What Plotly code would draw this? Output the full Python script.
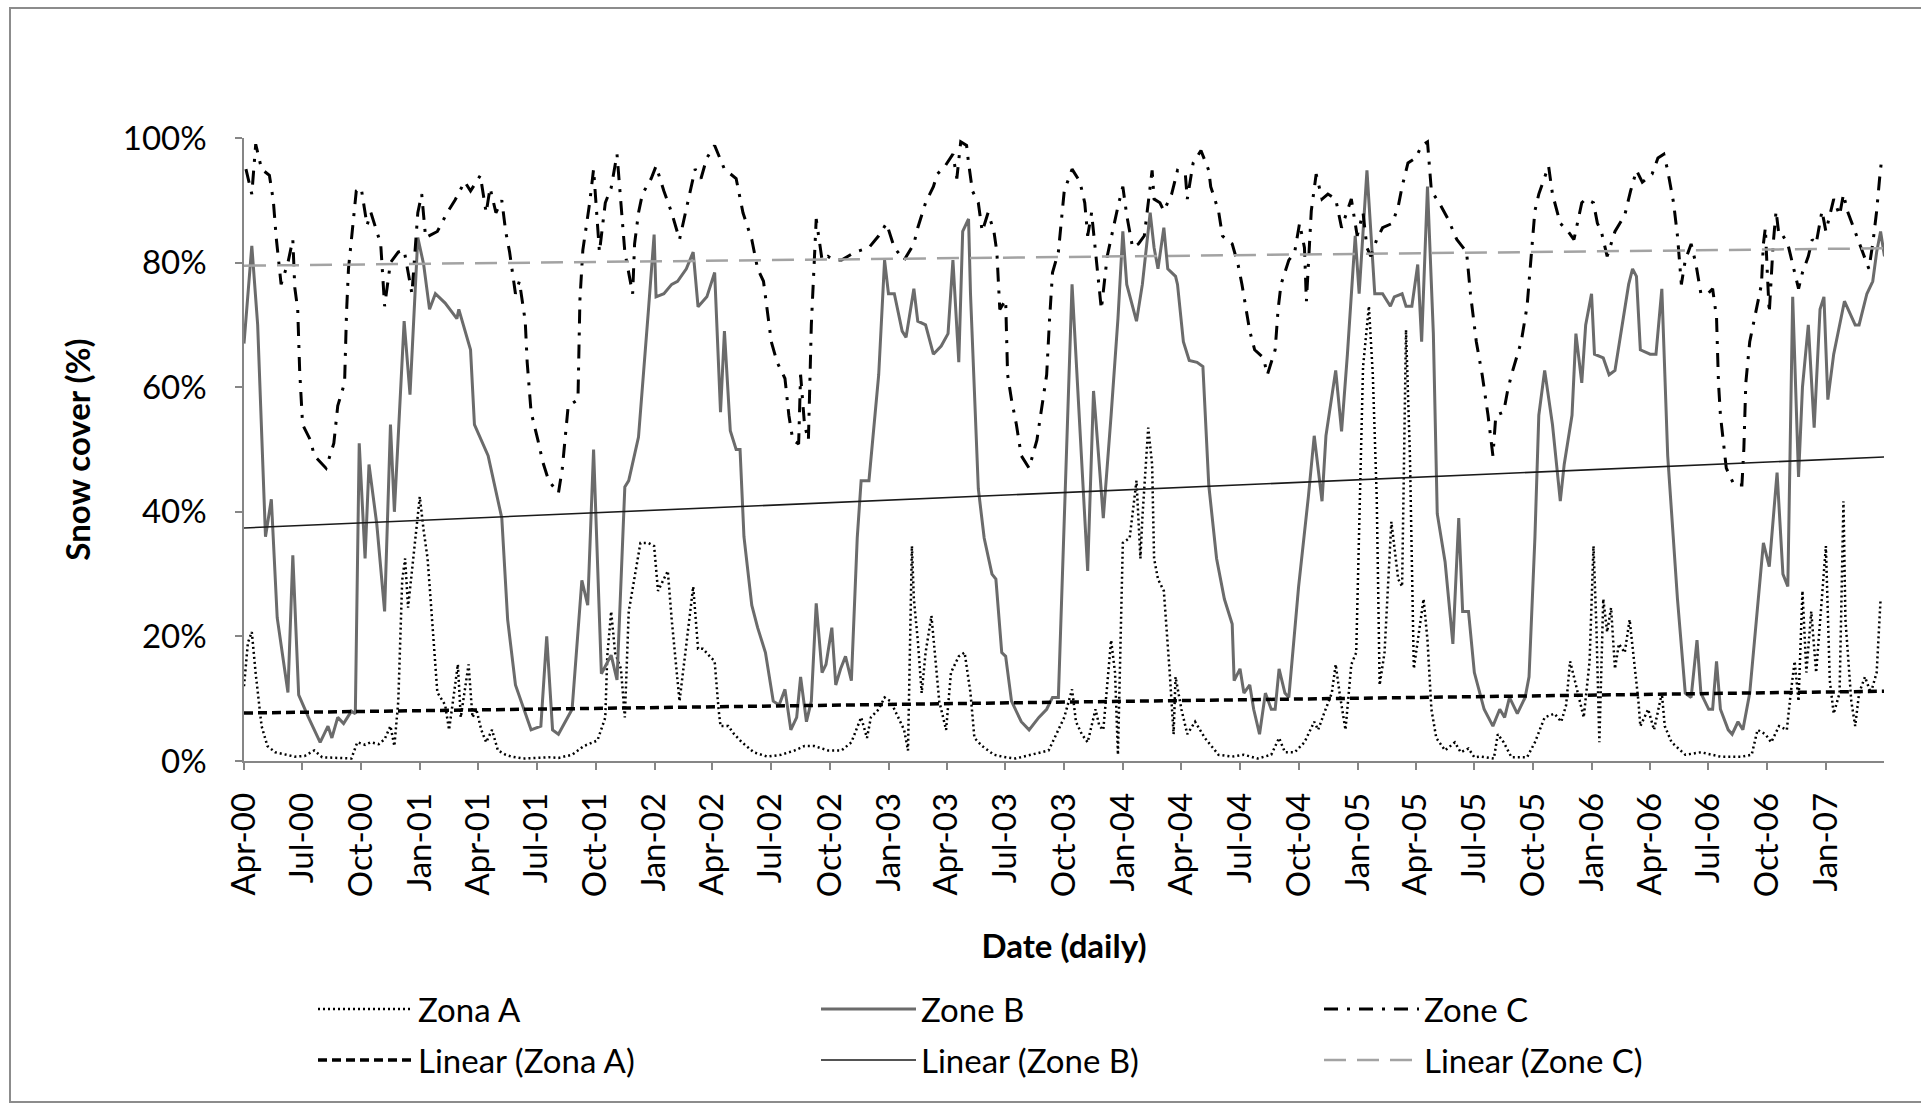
import numpy as np
import pandas as pd
import plotly.graph_objects as go

# Snow cover readings: (months since 1 Apr 2000, snow cover %)
zona_a = [
    (0.0, 12), (0.2, 19), (0.4, 20.7), (0.6, 14), (0.9, 5.6), (1.2, 2.4), (1.6, 1.4), (2.1, 1.0),
    (2.6, 0.7), (3.1, 0.8), (3.6, 1.7), (4.0, 0.6), (4.6, 0.5), (5.1, 0.4), (5.5, 0.4), (5.8, 3),
    (6.2, 2.6), (6.5, 3), (6.9, 2.7), (7.2, 3.5), (7.5, 5.6), (7.7, 2.4), (7.9, 9.6), (8.1, 29),
    (8.25, 32.5), (8.4, 24.6), (8.65, 32), (9.0, 42.4), (9.2, 37), (9.4, 32.5), (9.6, 24), (9.9, 11),
    (10.3, 9), (10.5, 5), (10.7, 9.6), (10.95, 15.5), (11.1, 7), (11.3, 11), (11.5, 15.5), (11.7, 7),
    (11.9, 8.3), (12.15, 5), (12.4, 3), (12.7, 5), (13.0, 1.7), (13.4, 1.0), (13.7, 0.7), (14.3, 0.4),
    (15.0, 0.5), (15.6, 0.6), (16.1, 0.5), (16.8, 1.0), (17.4, 2.4), (18.1, 3.3), (18.5, 7), (18.6, 16.8),
    (18.8, 24), (19.0, 17.4), (19.3, 14.8), (19.5, 7), (19.7, 24), (20.0, 29.2), (20.3, 35), (20.7, 35),
    (21.0, 34.5), (21.2, 27.3), (21.5, 29.2), (21.7, 30.5), (21.9, 22.7), (22.1, 16), (22.3, 9.6), (22.6, 17.4),
    (23.0, 28), (23.25, 18), (23.5, 18), (23.85, 16.8), (24.1, 16), (24.3, 8.3), (24.4, 5.6), (24.8, 5.6),
    (25.1, 4.3), (25.5, 3), (26.1, 1.4), (26.8, 0.7), (27.5, 1.0), (28.2, 1.7), (28.7, 2.4), (29.2, 2.4),
    (29.9, 1.7), (30.6, 1.7), (31.1, 3), (31.6, 7), (31.9, 3.7), (32.1, 7), (32.5, 8.3), (32.8, 10.2),
    (33.1, 9.6), (33.5, 7), (33.8, 5), (34.0, 1.7), (34.2, 34.5), (34.3, 26), (34.5, 19.4), (34.7, 10.9),
    (34.9, 17.4), (35.2, 23.3), (35.4, 16), (35.6, 9.6), (35.95, 5), (36.2, 14.2), (36.6, 16.8), (36.9, 17.4),
    (37.2, 10.9), (37.4, 3.7), (37.8, 2.4), (38.4, 1.0), (39.0, 0.6), (39.5, 0.4), (40.3, 1.0), (41.2, 1.7),
    (41.7, 5), (42.0, 7), (42.4, 11.5), (42.6, 6.3), (42.9, 4.3), (43.2, 3), (43.6, 8.3), (43.8, 5.6),
    (44.0, 5), (44.2, 12.9), (44.4, 19.4), (44.6, 14.2), (44.75, 1), (45.0, 35), (45.35, 35.8), (45.7, 45),
    (45.9, 32.5), (46.0, 39), (46.3, 53.5), (46.5, 47.6), (46.6, 32.5), (46.8, 29.2), (47.1, 27.3), (47.4, 14.2),
    (47.6, 4.3), (47.7, 13.5), (48.0, 8.3), (48.3, 4.3), (48.7, 6.3), (49.2, 3.7), (49.9, 1.0), (50.6, 0.7),
    (51.2, 1.0), (51.9, 0.4), (52.6, 1.0), (53.0, 3.7), (53.3, 1.4), (53.8, 1.4), (54.3, 3), (54.8, 6.3),
    (55.0, 5), (55.3, 7.6), (55.7, 10.9), (55.9, 15.5), (56.1, 10.9), (56.4, 5), (56.7, 15.5), (56.95, 17.4),
    (57.1, 39), (57.3, 63.3), (57.6, 73), (57.8, 62), (58.0, 42.4), (58.15, 12.2), (58.4, 17.4), (58.75, 38.4),
    (59.1, 29.2), (59.3, 28), (59.5, 69.2), (59.7, 49), (59.9, 14.8), (60.1, 19.4), (60.4, 26), (60.6, 19.4),
    (60.8, 8.3), (61.05, 3.7), (61.5, 1.7), (62.0, 3), (62.3, 1.4), (62.7, 2), (63.0, 0.6), (63.35, 0.7),
    (64.0, 0.4), (64.2, 4.3), (64.5, 3), (64.9, 0.6), (65.7, 0.6), (66.1, 3), (66.6, 7), (67.1, 7.6),
    (67.45, 6.3), (67.7, 9), (67.9, 16), (68.1, 13.5), (68.4, 9.6), (68.6, 7), (68.9, 16), (69.1, 34.5),
    (69.25, 21.4), (69.4, 3), (69.6, 26), (69.8, 20.7), (70.0, 24.6), (70.2, 14.8), (70.4, 18.8), (70.7, 17.4),
    (70.95, 22.7), (71.2, 16), (71.4, 9.6), (71.5, 5.6), (71.9, 8.3), (72.2, 5), (72.6, 10.9), (72.75, 5.6),
    (73.1, 3), (73.8, 1.0), (74.6, 1.4), (75.6, 0.7), (76.7, 0.7), (77.2, 1.0), (77.5, 5), (77.9, 4.3),
    (78.2, 3), (78.6, 5.6), (79.0, 5), (79.2, 10.9), (79.4, 16), (79.6, 9.6), (79.8, 27.3), (80.0, 14.2),
    (80.25, 24), (80.5, 14.2), (80.75, 24), (81.0, 34.5), (81.2, 12.9), (81.4, 7.6), (81.7, 10.9), (81.9, 41.7),
    (82.0, 22.7), (82.3, 9.6), (82.5, 5.6), (82.7, 10.9), (83.0, 13.5), (83.3, 10.9), (83.6, 14.2), (83.8, 26),
]

zone_b = [
    (0.0, 67), (0.4, 82.7), (0.7, 70), (1.1, 36), (1.4, 42), (1.7, 23), (2.25, 11), (2.5, 33),
    (2.8, 10.6), (3.3, 7), (3.9, 3), (4.3, 5.6), (4.5, 3.7), (4.8, 7), (5.1, 6), (5.5, 8),
    (5.7, 7.6), (5.9, 51), (6.2, 32.5), (6.4, 47.6), (6.8, 38), (7.2, 24), (7.5, 54), (7.7, 40),
    (8.2, 70.6), (8.5, 58.8), (8.9, 84), (9.2, 79.7), (9.5, 72.5), (9.8, 75), (10.3, 73.5), (10.9, 71),
    (11.0, 72.5), (11.6, 66), (11.8, 54), (12.5, 49), (13.2, 39), (13.5, 22.7), (13.9, 12.2), (14.4, 7.6),
    (14.7, 5), (15.2, 5.6), (15.5, 20), (15.8, 5), (16.1, 4.3), (16.8, 8.3), (17.3, 29), (17.6, 25),
    (17.9, 50), (18.3, 14), (18.8, 17), (19.1, 13), (19.5, 44), (19.7, 45), (20.2, 52), (20.7, 72),
    (21.0, 84.5), (21.1, 74.5), (21.5, 75), (21.9, 76.5), (22.2, 77), (22.65, 79), (23.0, 81.7), (23.25, 72.9),
    (23.7, 74.5), (24.1, 78.4), (24.4, 56), (24.6, 69), (24.9, 53), (25.2, 50), (25.4, 50), (25.6, 36),
    (26.0, 25), (26.3, 21.4), (26.7, 17.4), (27.1, 9.6), (27.4, 9), (27.7, 11.5), (28.0, 5), (28.3, 7),
    (28.5, 13.5), (28.8, 6.3), (29.05, 9.6), (29.3, 25.3), (29.6, 14.2), (29.8, 15.5), (30.1, 21.4), (30.3, 12.2),
    (30.55, 14.8), (30.8, 16.8), (31.1, 12.9), (31.4, 35.8), (31.6, 45), (32.0, 45), (32.5, 62), (32.8, 80.4),
    (33.0, 75), (33.3, 75), (33.7, 69), (33.9, 68), (34.3, 75.8), (34.5, 70.6), (34.9, 70), (35.3, 65.3),
    (35.7, 66.6), (36.05, 68.6), (36.3, 80.4), (36.6, 64), (36.8, 85), (37.1, 87), (37.2, 75), (37.6, 43.7),
    (37.9, 35.8), (38.3, 30), (38.5, 29.2), (38.8, 17.4), (39.0, 16.8), (39.3, 9.6), (39.8, 6.3), (40.2, 5),
    (40.7, 7), (41.1, 8.3), (41.4, 10.2), (41.7, 10.2), (42.0, 40), (42.4, 76.5), (43.2, 30.5), (43.5, 59.4),
    (43.6, 55.5), (44.0, 39), (44.4, 55.5), (44.75, 71), (45.0, 85), (45.2, 76.5), (45.7, 70.6), (46.0, 76.5),
    (46.4, 88), (46.6, 82.4), (46.8, 79), (47.1, 85.6), (47.3, 79), (47.7, 77.8), (47.8, 76.5), (48.1, 67.3),
    (48.4, 64.3), (48.8, 64), (49.1, 63.3), (49.4, 44.3), (49.8, 32.5), (50.2, 26), (50.6, 22), (50.7, 12.9),
    (51.0, 14.8), (51.2, 10.9), (51.5, 12.2), (51.7, 8.3), (52.0, 4.3), (52.3, 10.9), (52.6, 8.3), (52.8, 8.3),
    (53.0, 14.8), (53.3, 10.9), (53.5, 10.2), (54.0, 28), (54.5, 42.4), (54.8, 52.2), (55.2, 41.7), (55.4, 52.2),
    (55.9, 62.7), (56.2, 52.9), (56.5, 65.3), (56.9, 84.3), (57.1, 75), (57.5, 94.8), (57.9, 75), (58.3, 75),
    (58.7, 73), (58.9, 74.5), (59.3, 75), (59.5, 73), (59.8, 73), (60.1, 79.7), (60.3, 67.3), (60.6, 92.2),
    (60.9, 68.6), (61.1, 39.7), (61.5, 32), (61.9, 18.8), (62.2, 39), (62.4, 24), (62.7, 24), (63.0, 14.2),
    (63.5, 8.3), (63.95, 5.6), (64.3, 8.3), (64.55, 7), (64.8, 10.2), (65.2, 7.6), (65.6, 10.2), (65.8, 13.5),
    (66.1, 35.8), (66.3, 55.5), (66.6, 62.7), (67.0, 54), (67.4, 41.7), (67.6, 47.6), (68.0, 55.5), (68.2, 68.6),
    (68.5, 60.7), (68.7, 70), (69.0, 75), (69.15, 65.3), (69.6, 64.7), (69.9, 62), (70.2, 62.7), (70.5, 68.6),
    (70.9, 76.5), (71.1, 79), (71.3, 77.8), (71.5, 66), (72.0, 65.3), (72.3, 65.3), (72.6, 75.8), (72.9, 49),
    (73.2, 35.8), (73.4, 26), (73.8, 10.9), (74.1, 10.2), (74.4, 19.4), (74.6, 10.9), (75.0, 8.3), (75.2, 8.3),
    (75.4, 16), (75.6, 8.3), (76.0, 5), (76.2, 4.3), (76.5, 6.3), (76.75, 5), (77.1, 10.9), (77.5, 24),
    (77.8, 35), (78.1, 31.2), (78.5, 46.3), (78.8, 30), (79.05, 28), (79.3, 74.5), (79.6, 45.6), (79.8, 60),
    (80.1, 70), (80.4, 53.5), (80.7, 72.5), (80.9, 74.5), (81.1, 58), (81.4, 65.3), (81.95, 73.8), (82.5, 70),
    (82.7, 70), (83.1, 75), (83.4, 77), (83.6, 81.7), (83.8, 85), (84.0, 81),
]

zone_c = [
    (0.1, 95), (0.4, 91), (0.6, 99), (0.9, 95), (1.3, 94), (1.5, 90), (1.65, 84), (1.9, 76.5),
    (2.25, 80), (2.5, 83.7), (2.6, 76), (2.75, 72.5), (2.85, 62.7), (3.0, 54), (3.4, 51.5), (3.6, 49),
    (4.2, 47), (4.6, 51), (4.8, 57), (5.15, 60.7), (5.25, 72), (5.35, 79), (5.75, 91.5), (6.0, 92),
    (6.3, 86), (6.5, 88), (7.0, 83), (7.2, 73), (7.5, 80), (7.9, 81.7), (8.2, 82), (8.6, 75),
    (8.9, 88), (9.1, 91), (9.3, 84), (9.9, 85), (10.4, 88), (10.8, 90), (11.3, 93), (11.6, 91.5),
    (12.1, 94), (12.4, 88), (12.6, 92), (12.9, 88), (13.2, 90), (13.4, 85), (13.6, 81.7), (13.9, 75),
    (14.1, 77), (14.4, 70.6), (14.5, 64), (14.7, 56), (15.05, 51.5), (15.3, 48), (15.6, 45), (16.1, 43),
    (16.3, 47), (16.6, 57), (17.1, 58), (17.2, 74), (17.35, 82), (17.7, 89.6), (17.9, 95), (18.05, 87.6),
    (18.2, 81.7), (18.5, 89.6), (18.8, 92), (19.1, 97.4), (19.3, 89.6), (19.5, 81.7), (19.9, 75), (20.0, 83),
    (20.2, 88), (20.4, 91), (20.85, 93.5), (21.1, 95.5), (21.5, 91.5), (21.9, 88), (22.3, 83.7), (22.6, 88),
    (22.8, 91), (23.1, 95), (23.4, 93.5), (23.7, 96.8), (24.1, 98.8), (24.6, 95), (25.2, 93.5), (25.55, 88),
    (26.0, 83.7), (26.3, 79), (26.6, 77), (26.8, 72.5), (27.0, 67.3), (27.3, 64), (27.7, 61.4), (27.9, 55.5),
    (28.1, 51.5), (28.4, 50.9), (28.5, 62), (28.7, 54), (28.9, 51.5), (29.05, 70), (29.2, 81.7), (29.3, 87),
    (29.6, 80.4), (29.9, 81), (30.2, 80.4), (30.6, 80.4), (31.3, 81.7), (32.0, 82.4), (32.5, 84.3), (32.9, 86.3),
    (33.3, 82.4), (33.8, 80.4), (34.3, 83), (34.5, 85.6), (34.9, 89.6), (35.3, 92.2), (35.5, 94.2), (35.9, 95.5),
    (36.3, 97.4), (36.5, 93.5), (36.7, 99.4), (37.0, 98.8), (37.1, 96), (37.3, 91.5), (37.6, 89.6), (37.8, 85),
    (38.1, 88), (38.4, 85), (38.55, 81.7), (38.7, 72.5), (39.0, 74), (39.1, 62), (39.3, 58), (39.55, 54),
    (39.8, 49), (40.2, 47), (40.6, 51.5), (40.8, 55.5), (41.1, 62), (41.25, 71), (41.4, 78.4), (41.7, 81.7),
    (42.0, 91.5), (42.4, 95), (42.8, 93), (43.05, 89.6), (43.2, 84.3), (43.4, 88), (43.6, 81.7), (43.8, 76.5),
    (43.9, 72.5), (44.2, 81), (44.5, 85.6), (44.75, 89), (45.0, 92.2), (45.2, 87.6), (45.5, 82.4), (45.8, 83),
    (46.1, 84.3), (46.5, 94.8), (46.6, 90.2), (46.9, 89.6), (47.1, 88.3), (47.5, 91), (47.8, 94.8), (48.2, 94.2),
    (48.3, 90.2), (48.6, 96), (49.0, 98), (49.4, 94.8), (49.5, 92.2), (49.9, 88.3), (50.1, 84.3), (50.3, 83.7),
    (50.6, 83), (50.9, 79.7), (51.1, 76.5), (51.3, 73), (51.5, 69), (51.75, 66), (52.2, 64.7), (52.4, 62),
    (52.8, 66), (52.95, 72.5), (53.1, 76.5), (53.5, 80.4), (53.8, 81.7), (54.05, 86.3), (54.3, 82.4), (54.4, 73.8),
    (54.65, 88.3), (54.9, 94.2), (55.2, 90.2), (55.5, 91), (55.9, 90.2), (56.2, 85.6), (56.5, 88.3), (56.7, 90.2),
    (57.0, 84.3), (57.3, 88), (57.5, 82.4), (57.7, 81), (58.0, 83.7), (58.3, 85.6), (58.8, 86.3), (59.1, 89),
    (59.3, 92.2), (59.6, 96), (60.0, 96.8), (60.3, 98.8), (60.6, 99.4), (60.8, 91.5), (61.2, 89.6), (61.65, 87),
    (62.1, 83.7), (62.6, 81.7), (62.8, 75), (63.1, 67.3), (63.4, 62), (63.7, 55.5), (63.95, 49), (64.1, 55.5),
    (64.5, 56), (64.7, 59.4), (64.9, 62), (65.15, 64.7), (65.4, 67.3), (65.7, 73), (65.9, 80.4), (66.1, 88.3),
    (66.3, 91), (66.6, 93.5), (66.8, 95.5), (67.0, 91), (67.4, 86.3), (67.8, 85), (68.1, 83.7), (68.5, 89.6),
    (68.7, 90.2), (69.1, 89.6), (69.3, 86.3), (69.5, 85), (69.8, 81), (70.2, 85), (70.7, 87.6), (71.0, 91.5),
    (71.3, 94.8), (71.6, 92.9), (72.1, 94.2), (72.4, 96.8), (72.7, 97.4), (72.9, 94.8), (73.2, 89.6), (73.4, 84.3),
    (73.6, 76.5), (73.8, 80.4), (74.1, 83), (74.35, 79.7), (74.6, 75), (74.95, 75), (75.2, 75.8), (75.4, 71.2),
    (75.5, 60.7), (75.6, 55.5), (75.8, 50.2), (75.9, 47), (76.3, 44.3), (76.7, 44.3), (76.8, 50.2), (76.9, 60.7),
    (77.1, 67.3), (77.35, 71.2), (77.7, 76.5), (77.8, 83), (77.9, 85.6), (78.0, 78.4), (78.1, 71.9), (78.3, 83),
    (78.45, 88.3), (78.6, 84.3), (78.8, 84.3), (79.05, 83), (79.3, 79.7), (79.6, 75.8), (79.8, 78.4), (80.1, 81),
    (80.3, 83.7), (80.5, 83), (80.8, 88.3), (81.0, 85), (81.2, 87.6), (81.4, 90.2), (81.7, 87.6), (81.9, 91),
    (82.1, 88.3), (82.5, 85), (82.8, 82.4), (83.2, 79), (83.4, 83), (83.6, 88.3), (83.75, 93.5), (83.85, 96.5),
]

# Linear trend lines: value at the first and last day of the record
trend_a = [7.7, 11.2]
trend_b = [37.4, 48.8]
trend_c = [79.5, 82.3]
trend_t = [0.0, 84.0]

tick_labels = [
    "Apr-00", "Jul-00", "Oct-00", "Jan-01", "Apr-01", "Jul-01", "Oct-01",
    "Jan-02", "Apr-02", "Jul-02", "Oct-02", "Jan-03", "Apr-03", "Jul-03",
    "Oct-03", "Jan-04", "Apr-04", "Jul-04", "Oct-04", "Jan-05", "Apr-05",
    "Jul-05", "Oct-05", "Jan-06", "Apr-06", "Jul-06", "Oct-06", "Jan-07",
]
y_ticks = [0, 20, 40, 60, 80, 100]
y_tick_labels = ["0%", "20%", "40%", "60%", "80%", "100%"]

START = pd.Timestamp("2000-04-01")


def to_dates(months):
    return START + pd.to_timedelta(np.asarray(months, dtype=float) * 30.4375, unit="D")


def split(pairs):
    t, v = zip(*pairs)
    return to_dates(t), list(v)


FONT = "Lato, 'Open Sans', sans-serif"

fig = go.Figure()

series = [
    ("Zona A", zona_a, dict(color="#000000", width=2.5, dash="2px,3px")),
    ("Zone B", zone_b, dict(color="#6b6b6b", width=3)),
    ("Zone C", zone_c, dict(color="#000000", width=3, dash="14px,9px,3px,9px")),
]
for name, pairs, line in series:
    x, y = split(pairs)
    fig.add_trace(go.Scatter(x=x, y=y, mode="lines", name=name, line=line, legend="legend"))

trends = [
    ("Linear (Zona A)", trend_a, dict(color="#000000", width=3.5, dash="9px,5px")),
    ("Linear (Zone B)", trend_b, dict(color="#1a1a1a", width=1.6)),
    ("Linear (Zone C)", trend_c, dict(color="#a3a3a3", width=2.5, dash="22px,11px")),
]
for name, vals, line in trends:
    fig.add_trace(go.Scatter(x=to_dates(trend_t), y=vals, mode="lines", name=name,
                             line=line, legend="legend2"))

tick_dates = pd.date_range(START, periods=len(tick_labels), freq="3MS")

axis_grey = "#868686"
fig.update_xaxes(
    type="date",
    range=[START, START + pd.DateOffset(months=84)],
    tickmode="array", tickvals=tick_dates, ticktext=tick_labels,
    tickangle=-90, ticks="outside", ticklen=7, tickcolor=axis_grey, tickwidth=1.5,
    showline=True, linecolor=axis_grey, linewidth=1.5, showgrid=False, zeroline=False,
    tickfont=dict(family=FONT, size=33, color="#000000"),
    ticklabelstandoff=10,
    title=dict(text="<b>Date (daily)</b>", font=dict(family=FONT, size=33, color="#000000"),
               standoff=39),
)
fig.update_yaxes(
    range=[0, 100], tickmode="array", tickvals=y_ticks, ticktext=y_tick_labels,
    ticks="outside", ticklen=7, tickcolor=axis_grey, tickwidth=1.5,
    showline=True, linecolor=axis_grey, linewidth=1.5, showgrid=False, zeroline=False,
    tickfont=dict(family=FONT, size=33, color="#000000"),
    ticklabelstandoff=22,
    title=dict(text="<b>Snow cover (%)</b>", font=dict(family=FONT, size=33, color="#000000"),
               standoff=22),
)

legend_common = dict(
    orientation="h", xref="container", yref="container", xanchor="left", yanchor="middle",
    entrywidth=393, entrywidthmode="pixels", itemwidth=95, bgcolor="rgba(0,0,0,0)",
    font=dict(family=FONT, size=33, color="#000000"), traceorder="normal",
)

fig.update_layout(
    width=1921, height=1106,
    margin=dict(l=244, r=37, t=138, b=345, autoexpand=False),
    paper_bgcolor="#ffffff", plot_bgcolor="#ffffff",
    showlegend=True,
    legend=dict(x=313 / 1921, y=1 - 1009 / 1106, **legend_common),
    legend2=dict(x=313 / 1921, y=1 - 1060 / 1106, **legend_common),
)

# Chart frame
fig.add_shape(type="rect", xref="paper", yref="paper",
              x0=(10 - 244) / 1640, x1=(2100 - 244) / 1640,
              y0=(761 - 1102) / 623, y1=(761 - 8) / 623,
              line=dict(color="#8c8c8c", width=2), fillcolor="rgba(0,0,0,0)", layer="below")

fig.write_html("out.html")
